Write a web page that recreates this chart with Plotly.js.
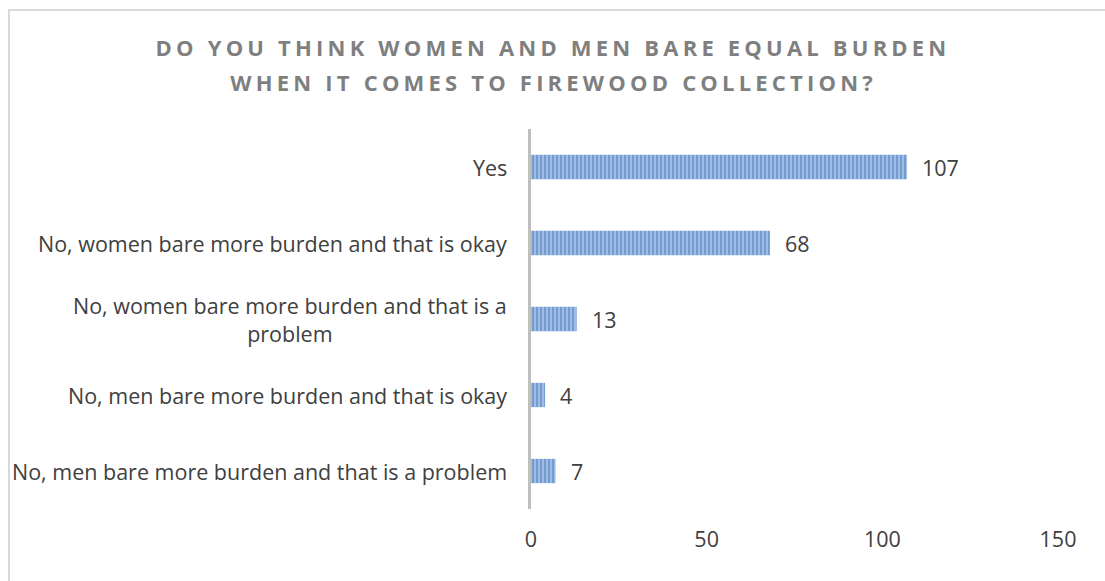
<!DOCTYPE html>
<html>
<head>
<meta charset="utf-8">
<script src="https://cdn.plot.ly/plotly-3.0.1.min.js"></script>
<style>
  html, body { margin: 0; padding: 0; background: #fff; }
  #wrap { position: relative; width: 1105px; height: 581px; overflow: hidden; }
  #chart { width: 1105px; height: 581px; }
  #frame { position: absolute; left: 8px; top: 9px; width: 1200px; height: 700px;
           border: 2px solid #d9d9d9; box-sizing: border-box; pointer-events: none; }
  g.annotation[data-index="0"] text, g.annotation[data-index="1"] text { letter-spacing: 4.2px; }
</style>
</head>
<body>
<div id="wrap">
  <div id="chart"></div>
  <div id="frame"></div>
</div>
<script>
const titleLines = [
  "DO YOU THINK WOMEN AND MEN BARE EQUAL BURDEN",
  "WHEN IT COMES TO FIREWOOD COLLECTION?"
];
const categories = [
  "Yes",
  "No, women bare more burden and that is okay",
  "No, women bare more burden and that is a<br>problem",
  "No, men bare more burden and that is okay",
  "No, men bare more burden and that is a problem"
];
const values = [107, 68, 13, 4, 7];
const xTicks = [0, 50, 100, 150];

const textColor = "#404040";
const fontFam = "'Open Sans', 'Liberation Sans', sans-serif";

const trace = {
  type: "bar",
  orientation: "h",
  x: values,
  y: categories,
  width: 0.32,
  marker: {
    color: "#9dbbe3",
    line: { width: 0 },
    pattern: { shape: "|", fgcolor: "#4677bb", bgcolor: "#a3c0e6", size: 4, solidity: 0.55, fillmode: "overlay" }
  },
  hoverinfo: "skip"
};

const annotations = [
  { xref: "paper", yref: "paper", x: 0.042, y: 1.216, text: "<b>" + titleLines[0] + "</b>", showarrow: false,
    xanchor: "center", yanchor: "middle", font: { family: fontFam, size: 22, color: "#7f7f7f" } },
  { xref: "paper", yref: "paper", x: 0.042, y: 1.124, text: "<b>" + titleLines[1] + "</b>", showarrow: false,
    xanchor: "center", yanchor: "middle", font: { family: fontFam, size: 22, color: "#7f7f7f" } }
];
categories.forEach((c, i) => {
  annotations.push({
    xref: "x", yref: "y", x: 0, y: c, text: c, showarrow: false,
    xanchor: "right", yanchor: "middle", align: "center", xshift: -22,
    font: { family: fontFam, size: 21.5, color: textColor }
  });
  annotations.push({
    xref: "x", yref: "y", x: values[i], y: c, text: String(values[i]), showarrow: false,
    xanchor: "left", yanchor: "middle", xshift: 13,
    font: { family: fontFam, size: 21.5, color: textColor }
  });
});

const layout = {
  width: 1105, height: 581,
  margin: { l: 531, r: 47, t: 129, b: 72 },
  paper_bgcolor: "#ffffff", plot_bgcolor: "#ffffff",
  showlegend: false,
  xaxis: {
    range: [0, 150], tickvals: xTicks, ticktext: xTicks.map(String),
    showgrid: false, zeroline: false, showline: false, ticks: "",
    tickfont: { family: fontFam, size: 21.5, color: textColor }, ticklabelstandoff: 15
  },
  yaxis: {
    type: "category", autorange: "reversed", showticklabels: false,
    showgrid: false, zeroline: false, showline: true, linecolor: "#bfbfbf", linewidth: 3, ticks: ""
  },
  annotations: annotations
};

Plotly.newPlot("chart", [trace], layout, { displayModeBar: false, staticPlot: true });
</script>
</body>
</html>
